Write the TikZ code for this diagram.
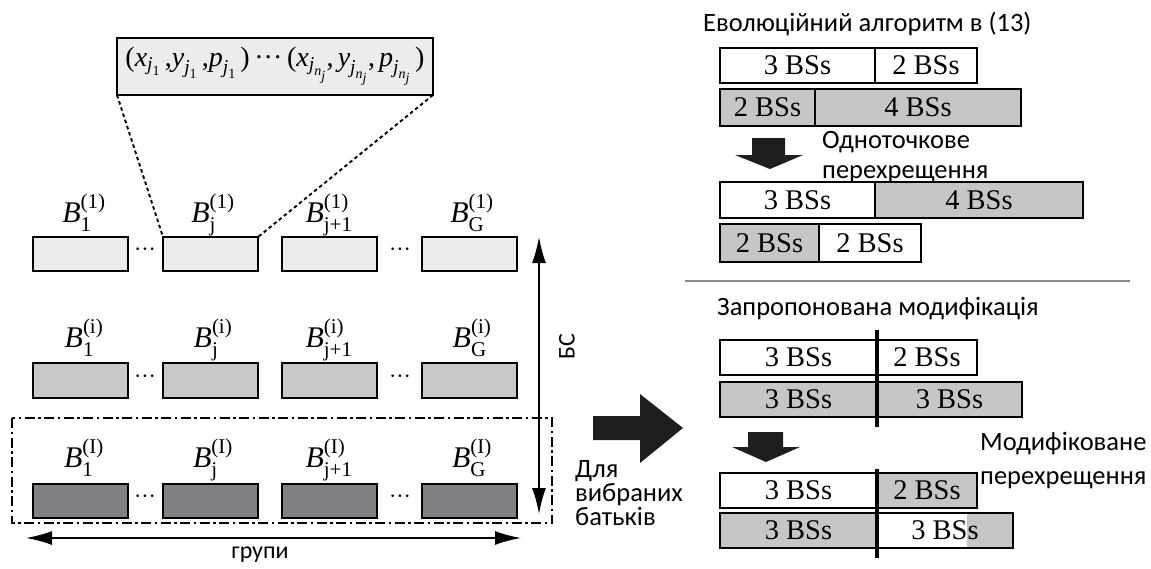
\documentclass[tikz,border=0pt]{standalone}
\usepackage{amsmath}
\usepackage{fontspec}
\setmainfont{Liberation Serif}
\newfontfamily\uafont{Carlito}
\usetikzlibrary{arrows.meta}
\definecolor{lightg}{HTML}{ECECEC}
\definecolor{midg}{HTML}{C8C8CA}
\definecolor{darkg}{HTML}{808184}
\definecolor{segg}{HTML}{C6C6C6}
\definecolor{arrowk}{HTML}{1E1E1E}
\definecolor{sepg}{HTML}{8A8A8A}
\newcommand\Blab[2]{$\textit{B}_{\text{#1}}^{\text{(#2)}}$}
\newcommand\xsub[1]{\textit{#1}}
\newcommand\jone{\xsub{j}_{\text{1}}}
\newcommand\jnj{\xsub{j}_{\xsub{n}_{\xsub{j}}}}
\begin{document}
\begin{tikzpicture}[x=1pt,y=-1pt,
  gbox/.style={draw, line width=1.6pt, minimum width=95pt, minimum height=34pt, inner sep=0pt, outer sep=0pt, anchor=north west},
  blab/.style={anchor=base, inner sep=0pt, font=\fontsize{30}{34}\selectfont},
  dotsn/.style={inner sep=0pt, font=\fontsize{22}{24}\selectfont},
  seg/.style={draw, line width=1.5pt, inner sep=0pt, outer sep=0pt, anchor=north west, font=\fontsize{28.5}{30}\selectfont},
  uatext/.style={inner sep=0pt, anchor=base west, font=\uafont\fontsize{26.5}{30}\selectfont},
  dashln/.style={line width=1.9pt, dash pattern=on 3.5pt off 3pt},
  dbl/.style={line width=1.8pt, {Latex[length=26pt,width=14pt]}-{Latex[length=26pt,width=14pt]}},
  bigarrow/.style={fill=arrowk, draw=none}
]
\useasboundingbox (0,0) rectangle (1151,568);

% ---- top formula box
\node[draw, line width=2pt, fill=lightg, minimum width=316pt, minimum height=57pt, inner sep=0pt, outer sep=0pt,
      font=\fontsize{28}{32}\selectfont] (top) at (275,66.5)
  {$\text{(}\xsub{x}_{\jone}\,\text{,}\xsub{y}_{\jone}\,\text{,}\xsub{p}_{\jone}\,\text{)\,···\,(}\xsub{x}_{\jnj}\text{,}\,\xsub{y}_{\jnj}\text{,}\,\xsub{p}_{\jnj}\,\text{)}$};

% ---- row 1
\node[gbox, fill=lightg] (r1a) at (33,237) {};
\node[gbox, fill=lightg] (r1b) at (163,237) {};
\node[gbox, fill=lightg] (r1c) at (282,237) {};
\node[gbox, fill=lightg] (r1d) at (422,237) {};
\node[blab] (l1a) at (84,222) {\Blab{1}{1}};
\node[blab] (l1b) at (213,222) {\Blab{j}{1}};
\node[blab] (l1c) at (329,222) {\Blab{j+1}{1}};
\node[blab] (l1d) at (472,222) {\Blab{G}{1}};
\node[dotsn] (d1a) at (145,252) {···};
\node[dotsn] (d1b) at (400,252) {···};

% ---- row 2
\node[gbox, fill=midg, minimum height=35pt] (r2a) at (33,363) {};
\node[gbox, fill=midg, minimum height=35pt] (r2b) at (163,363) {};
\node[gbox, fill=midg, minimum height=35pt] (r2c) at (282,363) {};
\node[gbox, fill=midg, minimum height=35pt] (r2d) at (422,363) {};
\node[blab] (l2a) at (84,347) {\Blab{1}{i}};
\node[blab] (l2b) at (213,347) {\Blab{j}{i}};
\node[blab] (l2c) at (329,347) {\Blab{j+1}{i}};
\node[blab] (l2d) at (472,347) {\Blab{G}{i}};
\node[dotsn] (d2a) at (145,379) {···};
\node[dotsn] (d2b) at (400,379) {···};

% ---- row 3
\node[gbox, fill=darkg] (r3a) at (33,484) {};
\node[gbox, fill=darkg] (r3b) at (163,484) {};
\node[gbox, fill=darkg] (r3c) at (282,484) {};
\node[gbox, fill=darkg] (r3d) at (422,484) {};
\node[blab] (l3a) at (84,467) {\Blab{1}{I}};
\node[blab] (l3b) at (213,467) {\Blab{j}{I}};
\node[blab] (l3c) at (329,467) {\Blab{j+1}{I}};
\node[blab] (l3d) at (472,467) {\Blab{G}{I}};
\node[dotsn] (d3a) at (145,499) {···};
\node[dotsn] (d3b) at (400,499) {···};

% ---- dash-dot selection box
\draw[line width=1.6pt, dash pattern=on 10pt off 3.5pt on 2.5pt off 3.5pt] (12,418) rectangle (552,523);

% ---- dotted connectors
\draw[dashln] (top.south west) -- (r1b.north west);
\draw[dashln] (top.south east) -- (r1b.north east);

% ---- double arrows
\coordinate (vt) at (539,237);
\coordinate (vb) at (539,514);
\draw[dbl] (vt) -- (vb);
\node[inner sep=0pt, rotate=90, font=\uafont\fontsize{24}{28}\selectfont] (bs) at (567,347) {БС};
\coordinate (hl) at (26,538);
\coordinate (hr) at (521,538);
\draw[dbl] (hl) -- (hr);
\node[inner sep=0pt, font=\uafont\fontsize{24}{28}\selectfont] (grp) at (260,555) {групи};

% ---- big right arrow
\fill[bigarrow] (593,416) -- (640,416) -- (640,394) -- (683,428) -- (640,463) -- (640,440) -- (593,440) -- cycle;
\node[uatext] (dl1) at (575,477) {Для};
\node[uatext] (dl2) at (575,501) {вибраних};
\node[uatext] (dl3) at (575,525) {батьків};

% ---- right top: evolutionary algorithm
\node[uatext] (t1) at (703,31) {Еволюційний алгоритм в (13)};
\node[seg, fill=white, minimum width=155pt, minimum height=35pt] (a1l) at (720,48) {3 BSs};
\node[seg, fill=white, minimum width=102pt, minimum height=35pt] (a1r) at (875,48) {2 BSs};
\node[seg, fill=segg, minimum width=95pt, minimum height=37pt] (a2l) at (720,89) {2 BSs};
\node[seg, fill=segg, minimum width=206pt, minimum height=37pt] (a2r) at (815,89) {4 BSs};
\fill[bigarrow] (752,138) -- (785,138) -- (785,155) -- (803,155) -- (770,169) -- (735,155) -- (752,155) -- cycle;
\node[uatext] (o1) at (822,148) {Одноточкове};
\node[uatext] (o2) at (822,178) {перехрещення};
\node[seg, fill=white, minimum width=155pt, minimum height=36pt] (a3l) at (720,182) {3 BSs};
\node[seg, fill=segg, minimum width=208pt, minimum height=36pt] (a3r) at (875,182) {4 BSs};
\node[seg, fill=segg, minimum width=99pt, minimum height=38pt] (a4l) at (720,224) {2 BSs};
\node[seg, fill=white, minimum width=102pt, minimum height=38pt] (a4r) at (819,224) {2 BSs};

% ---- separator
\draw[sepg, line width=2.5pt] (685,281) -- (1130,281);

% ---- right bottom: proposed modification
\node[uatext] (t2) at (717,315) {Запропонована модифікація};
\node[seg, fill=white, minimum width=157pt, minimum height=35pt] (b1l) at (720,340) {3 BSs};
\node[seg, fill=white, minimum width=100pt, minimum height=35pt] (b1r) at (877,340) {2 BSs};
\node[seg, fill=segg, minimum width=157pt, minimum height=35pt] (b2l) at (720,382) {3 BSs};
\node[seg, fill=segg, minimum width=145pt, minimum height=35pt] (b2r) at (877,382) {3 BSs};
\draw[line width=4pt] (877,330) -- (877,427);
\fill[bigarrow] (748,432) -- (783,432) -- (783,447) -- (800,447) -- (766,462) -- (732,447) -- (748,447) -- cycle;
\node[uatext] (m1) at (980,450) {Модифіковане};
\node[uatext] (m2) at (980,484) {перехрещення};
\node[seg, fill=white, minimum width=157pt, minimum height=35pt] (b3l) at (720,473) {3 BSs};
\node[seg, fill=segg, minimum width=100pt, minimum height=35pt] (b3r) at (877,473) {2 BSs};
\node[seg, fill=segg, minimum width=157pt, minimum height=35pt] (b4l) at (720,513) {3 BSs};
\node[seg, fill=segg, minimum width=136pt, minimum height=35pt] (b4r) at (877,513) {};
\fill[white] (878,514) rectangle (967,547);
\node[inner sep=0pt, font=\fontsize{28.5}{30}\selectfont] (b4t) at (b4r.center) {3 BSs};
\draw[line width=4pt] (877,469) -- (877,558);
\end{tikzpicture}
\end{document}
